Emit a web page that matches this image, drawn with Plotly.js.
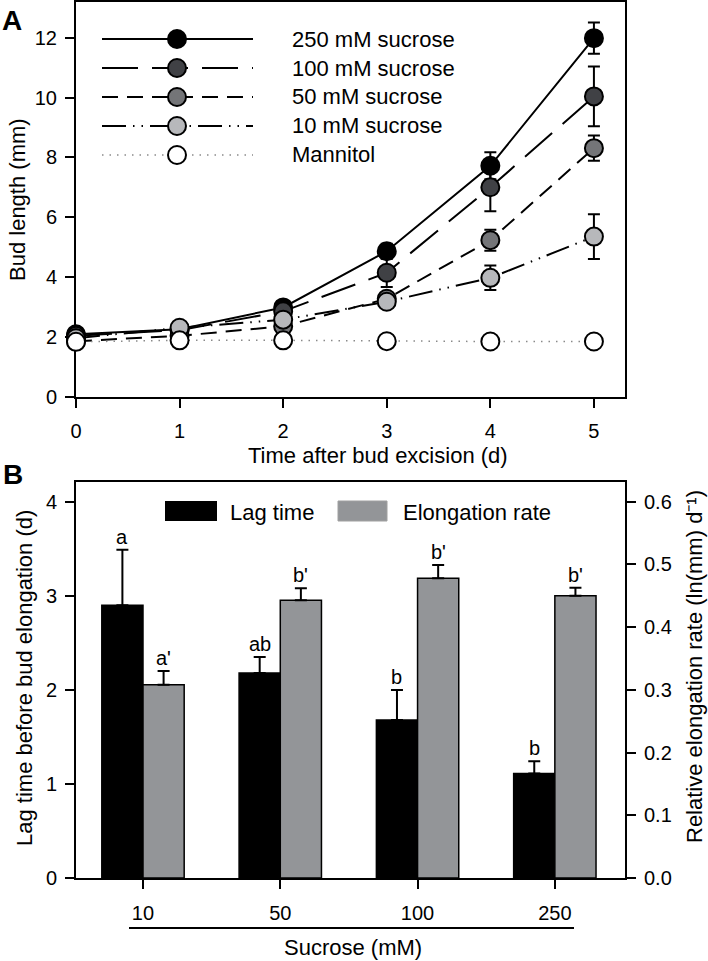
<!DOCTYPE html>
<html>
<head>
<meta charset="utf-8">
<script src="https://cdn.plot.ly/plotly-3.0.1.min.js"></script>
<style>html,body{margin:0;padding:0;background:#fff;}</style>
</head>
<body>
<div id="chart" style="width:708px;height:961px;"></div>
<script>
// ---------- Panel A data ----------
const days = [0, 1, 2, 3, 4, 5];
const seriesNames = ['250 mM sucrose', '100 mM sucrose', '50 mM sucrose', '10 mM sucrose', 'Mannitol'];
const sucrose250 = [2.08, 2.25, 2.98, 4.86, 7.72, 11.99];
const sucrose250Err = [0.05, 0.08, 0.12, 0.25, 0.45, 0.52];
const sucrose100 = [2.03, 2.22, 2.85, 4.14, 7.00, 10.04];
const sucrose100Err = [0.05, 0.08, 0.12, 0.48, 0.80, 1.00];
const sucrose50 = [1.85, 2.03, 2.35, 3.27, 5.23, 8.31];
const sucrose50Err = [0.05, 0.08, 0.12, 0.20, 0.35, 0.42];
const sucrose10 = [1.95, 2.30, 2.57, 3.17, 3.97, 5.35];
const sucrose10Err = [0.05, 0.08, 0.12, 0.20, 0.41, 0.75];
const mannitol = [1.83, 1.88, 1.88, 1.85, 1.84, 1.84];
const mannitolErr = [0.04, 0.04, 0.04, 0.04, 0.04, 0.04];

// ---------- Panel B data ----------
const concentrations = ['10', '50', '100', '250'];
const lagTime = [2.90, 2.18, 1.68, 1.11];
const lagTimeErr = [0.59, 0.17, 0.32, 0.13];
const lagLetters = ['a', 'ab', 'b', 'b'];
const elongRate = [0.308, 0.443, 0.478, 0.450];
const elongRateErr = [0.022, 0.019, 0.021, 0.013];
const rateLetters = ["a'", "b'", "b'", "b'"];

// ---------- styles ----------
const FONT = 'Liberation Sans, Arial, Helvetica, sans-serif';
const W = 708, H = 961;
const px = v => v / W;
const py = v => 1 - v / H;

const lineStyles = [
  {fill: '#000000', dash: 'solid', color: '#000000', width: 2},
  {fill: '#404145', dash: '36px,14px', color: '#000000', width: 2},
  {fill: '#747578', dash: '16px,9px', color: '#000000', width: 2},
  {fill: '#b7b8bb', dash: '24px,7px,1.5px,7px,1.5px,7px', color: '#000000', width: 2},
  {fill: '#ffffff', dash: '1.5px,6px', color: '#8a8a8a', width: 1.5}
];
const seriesY = [sucrose250, sucrose100, sucrose50, sucrose10, mannitol];
const seriesErr = [sucrose250Err, sucrose100Err, sucrose50Err, sucrose10Err, mannitolErr];

const traces = [];
seriesY.forEach((ys, i) => {
  const st = lineStyles[i];
  traces.push({
    type: 'scatter', mode: 'lines+markers', name: seriesNames[i],
    x: days, y: ys, xaxis: 'x', yaxis: 'y', cliponaxis: false,
    line: {color: st.color, width: st.width, dash: st.dash},
    marker: {symbol: 'circle', size: 18, color: st.fill, line: {color: '#000', width: 2}},
    error_y: {type: 'data', array: seriesErr[i], visible: true, color: '#000', thickness: 2, width: 6},
    hoverinfo: 'x+y+name'
  });
});

traces.push({
  type: 'bar', name: 'Lag time', x: concentrations, y: lagTime,
  xaxis: 'x2', yaxis: 'y2', width: 0.3, offset: -0.3,
  marker: {color: '#000000', line: {color: '#000000', width: 1.5}},
  error_y: {type: 'data', symmetric: false, array: lagTimeErr, arrayminus: lagTimeErr.map(() => 0),
            color: '#000', thickness: 2, width: 6}
});
traces.push({
  type: 'bar', name: 'Elongation rate', x: concentrations, y: elongRate,
  xaxis: 'x2', yaxis: 'y3', width: 0.3, offset: 0,
  marker: {color: '#939598', line: {color: '#000000', width: 1.5}},
  error_y: {type: 'data', symmetric: false, array: elongRateErr, arrayminus: elongRateErr.map(() => 0),
            color: '#000', thickness: 2, width: 6}
});

const shapes = [];
const annotations = [];

// Panel A legend (manual, long line samples)
seriesNames.forEach((name, i) => {
  const st = lineStyles[i];
  const yy = py(39 + 29 * i);
  shapes.push({type: 'line', xref: 'paper', yref: 'paper', x0: px(102), x1: px(253), y0: yy, y1: yy,
               line: {color: st.color, width: st.width, dash: st.dash}});
  shapes.push({type: 'circle', xref: 'paper', yref: 'paper', xsizemode: 'pixel', ysizemode: 'pixel',
               xanchor: px(177), yanchor: yy, x0: -9, x1: 9, y0: -9, y1: 9,
               fillcolor: st.fill, line: {color: '#000', width: 2}});
  annotations.push({xref: 'paper', yref: 'paper', x: px(290), y: yy, xanchor: 'left', yanchor: 'middle',
                    text: name, showarrow: false, font: {family: FONT, size: 22, color: '#000'}});
});

// Panel B legend
shapes.push({type: 'rect', xref: 'paper', yref: 'paper', x0: px(165), x1: px(217), y0: py(521), y1: py(501),
             fillcolor: '#000', line: {width: 0}});
shapes.push({type: 'rect', xref: 'paper', yref: 'paper', x0: px(338), x1: px(387), y0: py(521), y1: py(501),
             fillcolor: '#939598', line: {color: '#a0a0a0', width: 1}});
annotations.push({xref: 'paper', yref: 'paper', x: px(228), y: py(512), xanchor: 'left', yanchor: 'middle',
                  text: 'Lag time', showarrow: false, font: {family: FONT, size: 22}});
annotations.push({xref: 'paper', yref: 'paper', x: px(401), y: py(512), xanchor: 'left', yanchor: 'middle',
                  text: 'Elongation rate', showarrow: false, font: {family: FONT, size: 22}});

// Significance letters
concentrations.forEach((c, i) => {
  annotations.push({xref: 'x2', yref: 'y2', x: i - 0.15, y: lagTime[i] + lagTimeErr[i], yanchor: 'bottom',
                    text: lagLetters[i], showarrow: false, font: {family: FONT, size: 20}});
  annotations.push({xref: 'x2', yref: 'y3', x: i + 0.15, y: elongRate[i] + elongRateErr[i], yanchor: 'bottom',
                    text: rateLetters[i], showarrow: false, font: {family: FONT, size: 20}});
});

// underline beneath concentration labels
shapes.push({type: 'line', xref: 'paper', yref: 'paper', x0: px(129), x1: px(574), y0: py(928), y1: py(928),
             line: {color: '#000', width: 2}});

// axis titles
const titleFont = {family: FONT, size: 22, color: '#000'};
annotations.push({xref: 'paper', yref: 'paper', x: px(17), y: py(200), textangle: -90, xanchor: 'center', yanchor: 'middle',
                  text: 'Bud length (mm)', showarrow: false, font: titleFont});
annotations.push({xref: 'paper', yref: 'paper', x: px(378), y: py(456), xanchor: 'center', yanchor: 'middle',
                  text: 'Time after bud excision (d)', showarrow: false, font: titleFont});
annotations.push({xref: 'paper', yref: 'paper', x: px(24), y: py(678), textangle: -90, xanchor: 'center', yanchor: 'middle',
                  text: 'Lag time before bud elongation (d)', showarrow: false, font: titleFont});
annotations.push({xref: 'paper', yref: 'paper', x: px(694), y: py(667), textangle: -90, xanchor: 'center', yanchor: 'middle',
                  text: 'Relative elongation rate (ln(mm) d\u207B\u00B9)', showarrow: false, font: titleFont});
annotations.push({xref: 'paper', yref: 'paper', x: px(353), y: py(947), xanchor: 'center', yanchor: 'middle',
                  text: 'Sucrose (mM)', showarrow: false, font: titleFont});
// panel letters
annotations.push({xref: 'paper', yref: 'paper', x: px(12), y: py(20), xanchor: 'center', yanchor: 'middle',
                  text: 'A', showarrow: false, font: {family: FONT, size: 28, weight: 'bold'}});
annotations.push({xref: 'paper', yref: 'paper', x: px(13), y: py(474), xanchor: 'center', yanchor: 'middle',
                  text: 'B', showarrow: false, font: {family: FONT, size: 28, weight: 'bold'}});

const axisBase = {
  showline: true, linewidth: 2, linecolor: '#000', ticks: 'outside', ticklen: 9, tickwidth: 2,
  tickcolor: '#000', showgrid: false, zeroline: false, fixedrange: true,
  tickfont: {family: FONT, size: 20, color: '#000'}
};

const layout = {
  width: W, height: H, margin: {l: 0, r: 0, t: 0, b: 0},
  paper_bgcolor: '#fff', plot_bgcolor: 'rgba(0,0,0,0)',
  font: {family: FONT, size: 20, color: '#000'},
  showlegend: false, barmode: 'overlay',
  xaxis: Object.assign({}, axisBase, {domain: [px(76), px(625)], range: [0, 5.30], tick0: 0, dtick: 1,
                       mirror: true, anchor: 'y', ticklabelstandoff: 6}),
  yaxis: Object.assign({}, axisBase, {domain: [py(396.5), py(2)], range: [0, 13.2], tick0: 0, dtick: 2,
                       mirror: true, anchor: 'x', layer: 'below traces', ticklabelstandoff: 4}),
  xaxis2: Object.assign({}, axisBase, {domain: [px(76), px(625)], type: 'category', range: [-0.488, 3.511],
                        mirror: true, anchor: 'y2', ticklabelstandoff: 7}),
  yaxis2: Object.assign({}, axisBase, {domain: [py(878), py(482)], range: [0, 4.21], tick0: 0, dtick: 1,
                        anchor: 'x2', ticklabelstandoff: 4}),
  yaxis3: Object.assign({}, axisBase, {overlaying: 'y2', side: 'right', anchor: 'x2', range: [0, 0.6315],
                        tick0: 0, dtick: 0.1, tickformat: '.1f', ticklabelstandoff: 4}),
  shapes: shapes,
  annotations: annotations
};

Plotly.newPlot('chart', traces, layout, {displayModeBar: false, staticPlot: true});
</script>
</body>
</html>
